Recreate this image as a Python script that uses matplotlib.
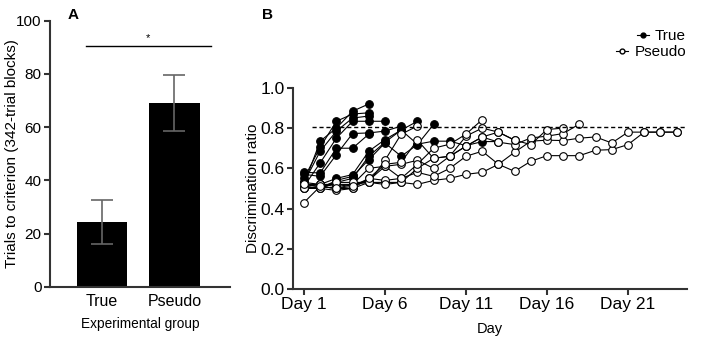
import matplotlib.pyplot as plt
import numpy as np

plt.rcParams['font.family'] = ['Liberation Sans', 'DejaVu Sans']

# panel A
groups = ["True", "Pseudo"]
trials_mean = [24.5, 69.0]
trials_err = [8.3, 10.6]

# panel B - discrimination ratio per day, one list per subject
true_traces = [
    [0.52, 0.735, 0.80, 0.884, 0.92],
    [0.55, 0.705, 0.834, 0.87, 0.876],
    [0.53, 0.685, 0.785, 0.85, 0.86],
    [0.51, 0.627, 0.75, 0.834, 0.834, 0.834],
    [0.57, 0.56, 0.668, 0.773, 0.776, 0.785, 0.81],
    [0.58, 0.577, 0.70, 0.70, 0.77],
    [0.53, 0.52, 0.55, 0.569, 0.685, 0.743, 0.79, 0.834],
    [0.51, 0.50, 0.54, 0.56, 0.643, 0.726, 0.66, 0.718, 0.818],
    [0.50, 0.51, 0.53, 0.55, 0.66, 0.73, 0.79, 0.72, 0.735, 0.735, 0.713, 0.733, 0.733],
]
pseudo_traces = [
    [0.43, 0.51, 0.50, 0.50, 0.53, 0.53, 0.53, 0.52, 0.54, 0.55, 0.57, 0.58, 0.62,
     0.585, 0.635, 0.663, 0.663, 0.663, 0.69, 0.693, 0.718, 0.78, 0.78, 0.78],
    [0.51, 0.50, 0.49, 0.50, 0.55, 0.54, 0.55, 0.58, 0.56, 0.60, 0.66, 0.685, 0.62,
     0.68, 0.735, 0.74, 0.738, 0.75, 0.756, 0.726, 0.78, 0.78, 0.78, 0.78],
    [0.52, 0.52, 0.51, 0.52, 0.53, 0.52, 0.53, 0.60, 0.65, 0.66, 0.71, 0.756, 0.73,
     0.718, 0.751, 0.76, 0.773, 0.82],
    [0.50, 0.51, 0.50, 0.52, 0.60, 0.61, 0.62, 0.64, 0.60, 0.66, 0.76, 0.80, 0.78,
     0.74, 0.718, 0.793, 0.80],
    [0.51, 0.52, 0.52, 0.52, 0.54, 0.61, 0.55, 0.62, 0.70, 0.72, 0.77, 0.842],
    [0.50, 0.50, 0.53, 0.53, 0.53, 0.64, 0.77, 0.81],
    [0.52, 0.51, 0.50, 0.51, 0.55, 0.62, 0.63, 0.74, 0.65, 0.66, 0.71, 0.756, 0.78, 0.74],
]
day_ticks = [1, 6, 11, 16, 21]
criterion = 0.805

fig = plt.figure(figsize=(7.08, 3.38), dpi=100)
axA = fig.add_axes([0.0706, 0.151, 0.2543, 0.788])
axB = fig.add_axes([0.4138, 0.145, 0.5565, 0.595])

spine_c = '#333333'
for ax in (axA, axB):
    for s in ('top', 'right'):
        ax.spines[s].set_visible(False)
    for s in ('left', 'bottom'):
        ax.spines[s].set_linewidth(1.5)
        ax.spines[s].set_color(spine_c)
    ax.tick_params(width=1.5, length=4, color=spine_c, direction='out', pad=2)

# ---- A ----
x = np.arange(len(groups))
axA.bar(x, trials_mean, width=0.69, color='black')
axA.errorbar(x, trials_mean, yerr=trials_err, fmt='none', ecolor='#666666',
             elinewidth=1.2, capsize=8, capthick=1.2)
axA.plot([-0.22, 1.5], [90.5, 90.5], color='black', lw=1)
axA.text(0.64, 91.5, '*', ha='center', va='bottom', fontsize=8)
axA.set_xlim(-0.717, 1.766)
axA.set_ylim(0, 100)
axA.set_yticks([0, 20, 40, 60, 80, 100])
axA.tick_params(axis='y', labelsize=11)
axA.set_xticks(x)
axA.set_xticklabels(groups, fontsize=11.5)
axA.tick_params(axis='x', length=0, pad=5)
axA.set_xlabel('Experimental group', fontsize=9.8, labelpad=6)
axA.set_ylabel('Trials to criterion (342-trial blocks)', fontsize=11)
axA.yaxis.set_label_coords(-0.17, 0.5)
fig.text(0.095, 0.975, 'A', fontsize=11, fontweight='bold', va='top')

# ---- B ----
for tr in true_traces:
    d = np.arange(1, len(tr) + 1)
    axB.plot(d, tr, color='black', lw=0.8, marker='o', ms=5.5,
             mfc='black', mec='black', mew=0.8)
for tr in pseudo_traces:
    d = np.arange(1, len(tr) + 1)
    axB.plot(d, tr, color='black', lw=0.8, marker='o', ms=5.5,
             mfc='white', mec='black', mew=0.8)
axB.plot([1.5, 24.64], [criterion, criterion], color='black', lw=1, ls=(0, (3, 2)))
axB.set_xlim(0.32, 24.64)
axB.set_ylim(0, 1.0)
axB.set_yticks(np.arange(0, 1.01, 0.2))
axB.set_yticklabels(['%.1f' % v for v in np.arange(0, 1.01, 0.2)])
axB.set_xticks(day_ticks)
axB.set_xticklabels(['Day %d' % d for d in day_ticks])
axB.tick_params(labelsize=12.5)
axB.set_xlabel('Day', fontsize=10.5, labelpad=7)
axB.set_ylabel('Discrimination ratio', fontsize=11)
axB.yaxis.set_label_coords(-0.084, 0.5)
fig.text(0.37, 0.975, 'B', fontsize=11, fontweight='bold', va='top')

h1, = axB.plot([], [], color='black', lw=0.8, marker='o', ms=3.5, mfc='black', mec='black')
h2, = axB.plot([], [], color='black', lw=0.8, marker='o', ms=3.5, mfc='white', mec='black')
for h, lab, yc in [(h1, 'True', 36), (h2, 'Pseudo', 52)]:
    leg = fig.legend([h], [lab], loc='center right', bbox_to_anchor=(686 / 708, 1 - yc / 338),
                     frameon=False, fontsize=11, handlelength=0.8, handletextpad=0.4,
                     borderpad=0, borderaxespad=0)

fig.savefig('out.png', dpi=100)
